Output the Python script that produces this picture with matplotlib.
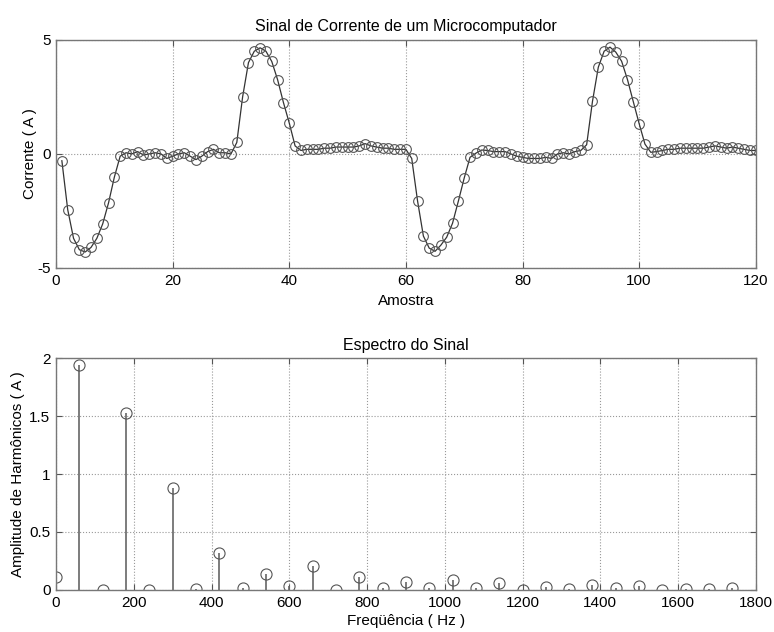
import numpy as np
import matplotlib
matplotlib.use("Agg")
import matplotlib.pyplot as plt

plt.rcParams['font.family'] = ['Liberation Sans', 'DejaVu Sans']
plt.rcParams['axes.unicode_minus'] = False

# sinal de corrente (amostras 1..120)
amostra = list(range(1, 121))
corrente = [
    -0.3, -2.44, -3.7, -4.2, -4.3, -4.1, -3.7, -3.07, -2.15, -1.02,
    -0.1, 0.05, 0.0, 0.1, -0.05, 0.0, 0.05, 0.0, -0.2, -0.1,
    0.0, 0.05, -0.1, -0.25, -0.1, 0.1, 0.2, 0.05, 0.05, 0.0,
    0.5, 2.5, 4.0, 4.5, 4.65, 4.5, 4.05, 3.25, 2.25, 1.35,
    0.35, 0.15, 0.2, 0.2, 0.2, 0.25, 0.25, 0.3, 0.3, 0.3,
    0.3, 0.35, 0.45, 0.35, 0.3, 0.25, 0.25, 0.2, 0.2, 0.2,
    -0.2, -2.06, -3.6, -4.13, -4.27, -4.0, -3.65, -3.04, -2.07, -1.06,
    -0.15, 0.03, 0.17, 0.15, 0.1, 0.1, 0.1, 0.0, -0.1, -0.15,
    -0.2, -0.2, -0.2, -0.15, -0.2, 0.0, 0.05, 0.0, 0.1, 0.15,
    0.4, 2.3, 3.8, 4.5, 4.68, 4.46, 4.06, 3.26, 2.29, 1.33,
    0.43, 0.07, 0.1, 0.15, 0.2, 0.2, 0.25, 0.25, 0.25, 0.25,
    0.25, 0.3, 0.35, 0.3, 0.25, 0.3, 0.25, 0.2, 0.15, 0.15,
]

# espectro (harmonicos de 60 Hz)
freq = list(range(0, 1800, 60))
amplitude = [
    0.11, 1.94, 0.0, 1.53, 0.0, 0.88, 0.01, 0.32, 0.02, 0.14,
    0.03, 0.21, 0.0, 0.11, 0.02, 0.07, 0.02, 0.09, 0.02, 0.06,
    0.0, 0.025, 0.01, 0.04, 0.02, 0.03, 0.0, 0.01, 0.01, 0.02,
]

FS = 11
EDGE = '#555555'


def estilo(ax):
    for s in ax.spines.values():
        s.set_color('#777777')
        s.set_linewidth(1.0)
    ax.tick_params(direction='in', length=4, color='#555555',
                   labelsize=FS, top=True, right=True,
                   labeltop=False, labelright=False, pad=4)
    ax.grid(True, linestyle=':', color='#999999', linewidth=0.8)


fig = plt.figure(figsize=(7.74, 6.32), dpi=100)

ax1 = fig.add_axes([0.0724, 0.576, 0.904, 0.361])
ax1.plot(amostra, corrente, color='#333333', linewidth=0.9,
         marker='o', markersize=7, markerfacecolor='none',
         markeredgecolor=EDGE, markeredgewidth=0.8)
ax1.set_xlim(0, 120)
ax1.set_ylim(-5, 5)
ax1.set_xticks([0, 20, 40, 60, 80, 100, 120])
ax1.set_yticks([-5, 0, 5])
ax1.set_title('Sinal de Corrente de um Microcomputador', fontsize=11.5, pad=6)
ax1.set_xlabel('Amostra', fontsize=FS, labelpad=5)
ax1.set_ylabel('Corrente ( A )', fontsize=FS, labelpad=0)
estilo(ax1)

ax2 = fig.add_axes([0.0724, 0.0665, 0.904, 0.367])
ml, sl, bl = ax2.stem(freq, amplitude, basefmt=' ')
plt.setp(sl, color='#666666', linewidth=1.2)
plt.setp(ml, markersize=8, markerfacecolor='none',
         markeredgecolor=EDGE, markeredgewidth=0.8)
ax2.set_xlim(0, 1800)
ax2.set_ylim(0, 2)
ax2.set_xticks(range(0, 1801, 200))
ax2.set_yticks([0, 0.5, 1, 1.5, 2])
ax2.set_yticklabels(['0', '0.5', '1', '1.5', '2'])
ax2.set_title('Espectro do Sinal', fontsize=11.5, pad=6)
ax2.set_xlabel('Freqüência ( Hz )', fontsize=FS, labelpad=3)
ax2.set_ylabel('Amplitude de Harmônicos ( A )', fontsize=FS, labelpad=3)
estilo(ax2)

fig.savefig('out.png', dpi=100)
